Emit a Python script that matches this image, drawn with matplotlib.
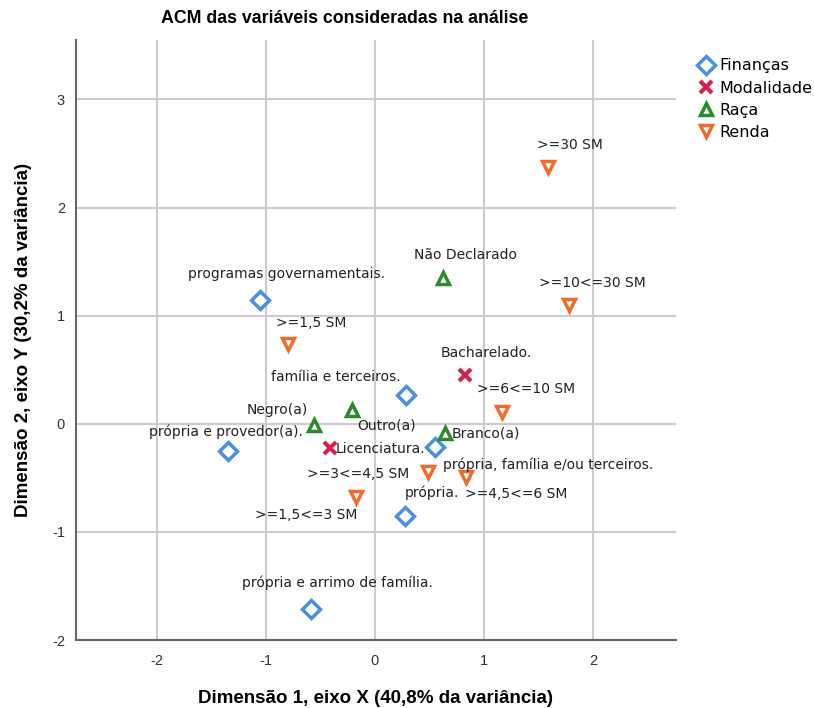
import matplotlib
matplotlib.use("Agg")
import matplotlib.pyplot as plt

plt.rcParams["axes.unicode_minus"] = False

# categories per variable: name, marker (x, y), label (x, y)
financas_names = ["programas governamentais.", "família e terceiros.", "própria e provedor(a).",
                  "própria, família e/ou terceiros.", "própria.", "própria e arrimo de família."]
financas_x = [-1.055, 0.284, -1.349, 0.550, 0.275, -0.587]
financas_y = [1.146, 0.268, -0.250, -0.213, -0.850, -1.710]

modalidade_names = ["Bacharelado.", "Licenciatura."]
modalidade_x = [0.826, -0.413]
modalidade_y = [0.453, -0.222]

raca_names = ["Não Declarado", "Negro(a)", "Outro(a)", "Branco(a)"]
raca_x = [0.624, -0.560, -0.211, 0.642]
raca_y = [1.349, -0.009, 0.129, -0.083]

renda_names = [">=30 SM", ">=10<=30 SM", ">=1,5 SM", ">=6<=10 SM",
               ">=1,5<=3 SM", ">=4,5<=6 SM", ">=3<=4,5 SM"]
renda_x = [1.587, 1.780, -0.798, 1.165, -0.174, 0.835, 0.486]
renda_y = [2.375, 1.100, 0.739, 0.111, -0.675, -0.490, -0.444]

# label placement (x, y, horizontal alignment)
label_pos = {
    "programas governamentais.": (-0.81, 1.386, "center"),
    "família e terceiros.": (-0.358, 0.434, "center"),
    "própria e provedor(a).": (-1.367, -0.074, "center"),
    "própria, família e/ou terceiros.": (0.624, -0.379, "left"),
    "própria.": (0.523, -0.638, "center"),
    "própria e arrimo de família.": (-0.339, -1.47, "center"),
    "Bacharelado.": (1.018, 0.656, "center"),
    "Licenciatura.": (-0.358, -0.231, "left"),
    "Não Declarado": (0.826, 1.562, "center"),
    "Negro(a)": (-0.899, 0.129, "center"),
    "Outro(a)": (0.110, -0.018, "center"),
    "Branco(a)": (0.706, -0.092, "left"),
    ">=30 SM": (1.789, 2.579, "center"),
    ">=10<=30 SM": (1.991, 1.303, "center"),
    ">=1,5 SM": (-0.587, 0.933, "center"),
    ">=6<=10 SM": (1.385, 0.323, "center"),
    ">=1,5<=3 SM": (-0.633, -0.841, "center"),
    ">=4,5<=6 SM": (1.294, -0.647, "center"),
    ">=3<=4,5 SM": (-0.156, -0.462, "center"),
}

blue = "#4a90e2"
red = "#d6204e"
green = "#2d8a2d"
orange = "#f26b2a"

bold_font = "Liberation Sans"

fig = plt.figure(figsize=(8.14, 7.08), dpi=100)
ax = fig.add_axes([76 / 814, 68 / 708, 600 / 814, 600 / 708])

ax.plot(financas_x, financas_y, "D", ms=9, mfc="white", mec=blue, mew=2.5,
        ls="none", label="Finanças", zorder=3)
ax.plot(modalidade_x, modalidade_y, "x", ms=9, mec=red, mew=3,
        ls="none", label="Modalidade", zorder=3)
ax.plot(raca_x, raca_y, "^", ms=9, mfc="white", mec=green, mew=2.5,
        ls="none", label="Raça", zorder=3)
ax.plot(renda_x, renda_y, "v", ms=9, mfc="white", mec=orange, mew=2.5,
        ls="none", label="Renda", zorder=3)

for name in financas_names + modalidade_names + raca_names + renda_names:
    lx, ly, ha = label_pos[name]
    ax.text(lx, ly, name, ha=ha, va="center", fontsize=10, color="#222222", zorder=4)

ax.set_xlim(-2.74, 2.76)
ax.set_ylim(-2, 3.55)
ax.set_xticks([-2, -1, 0, 1, 2])
ax.set_yticks([-2, -1, 0, 1, 2, 3])
ax.grid(True, color="#cccccc", lw=1.5)
ax.set_axisbelow(True)
ax.tick_params(length=0, labelsize=10.5, colors="#333333")
for lab in ax.get_xticklabels() + ax.get_yticklabels():
    lab.set_family("Liberation Sans")
ax.tick_params(axis="x", pad=10)
ax.tick_params(axis="y", pad=8)
for s in ["top", "right"]:
    ax.spines[s].set_visible(False)
for s in ["left", "bottom"]:
    ax.spines[s].set_color("#666666")
    ax.spines[s].set_linewidth(1.5)

ax.set_title("ACM das variáveis consideradas na análise", fontsize=12.8,
             fontweight="bold", family=bold_font, pad=12, x=0.448)
ax.set_xlabel("Dimensão 1, eixo X (40,8% da variância)", fontsize=13.5,
              fontweight="bold", family=bold_font, labelpad=16)
ax.set_ylabel("Dimensão 2, eixo Y (30,2% da variância)", fontsize=13.5,
              fontweight="bold", family=bold_font, labelpad=14)

fig.legend(loc="upper left", bbox_to_anchor=(692 / 814, 1 - 52 / 708), frameon=False,
           fontsize=11.5, handletextpad=0.3, labelspacing=0.45, handlelength=1.0,
           borderaxespad=0)

fig.savefig("out.png", dpi=100)
